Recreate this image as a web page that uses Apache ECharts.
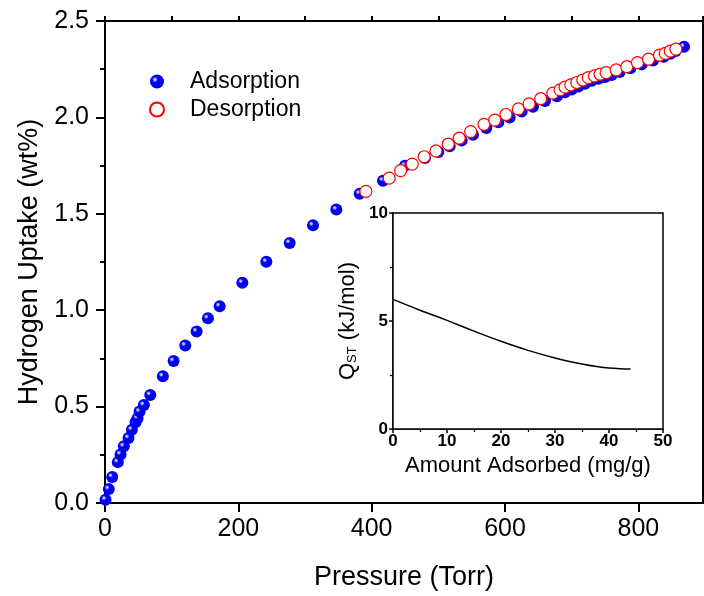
<!DOCTYPE html>
<html>
<head>
<meta charset="utf-8">
<script src="https://cdn.jsdelivr.net/npm/echarts@6/dist/echarts.min.js"></script>
<style>
html,body{margin:0;padding:0;background:#fff;}
#chart{width:704px;height:596px;}
</style>
</head>
<body>
<div id="chart"></div>
<script>
// Adsorption isotherm (Pressure in Torr, uptake in wt%)
const adsPressure = [0.8, 5.7, 10.8, 19.2, 23.3, 28.2, 35.3, 40.3, 45.8, 48.8, 51.8, 58.3, 67.9, 86.8, 102.9, 120.4, 137.4, 154.4, 172, 206, 242, 277, 312, 347, 382, 417, 450, 480, 500, 517, 535, 552, 572, 590, 607, 625, 642, 660, 678, 690, 700, 710, 720, 730, 740, 750, 760, 772, 788, 805, 822, 838, 848, 856, 868.6];
const adsUptake = [0.017, 0.072, 0.135, 0.212, 0.252, 0.294, 0.337, 0.380, 0.419, 0.440, 0.474, 0.508, 0.560, 0.657, 0.736, 0.817, 0.890, 0.958, 1.020, 1.142, 1.251, 1.349, 1.440, 1.522, 1.604, 1.672, 1.749, 1.790, 1.820, 1.850, 1.880, 1.910, 1.945, 1.975, 2.000, 2.030, 2.055, 2.085, 2.110, 2.130, 2.145, 2.160, 2.175, 2.190, 2.200, 2.210, 2.220, 2.235, 2.255, 2.275, 2.295, 2.315, 2.330, 2.345, 2.366];
// Desorption branch
const desPressure = [391.3, 426.3, 443.4, 460.8, 478.8, 496.4, 514.9, 531.4, 548.5, 568.5, 584.6, 601.5, 620.0, 636.1, 653.6, 671.7, 682.6, 690.1, 698.7, 707.7, 716.7, 725.1, 734.2, 742.7, 751.7, 766.8, 782.8, 798.7, 815.3, 831.8, 840.4, 847.9, 856.4];
const desUptake = [1.616, 1.685, 1.724, 1.758, 1.796, 1.826, 1.861, 1.892, 1.926, 1.964, 1.986, 2.015, 2.044, 2.070, 2.097, 2.126, 2.143, 2.157, 2.169, 2.181, 2.194, 2.206, 2.215, 2.224, 2.232, 2.246, 2.263, 2.284, 2.302, 2.323, 2.332, 2.344, 2.354];
// Inset: isosteric heat vs amount adsorbed
const qstAmount = [0, 5, 10, 15, 20, 25, 30, 35, 38, 40, 42, 44];
const qstValue = [6.0, 5.5, 5.03, 4.53, 4.06, 3.64, 3.29, 3.01, 2.88, 2.82, 2.79, 2.78];

const xTicks = {min: 0, max: 897, interval: 200};
const yTicks = {min: 0, max: 2.5, interval: 0.5};

const zip = (a, b) => a.map((v, i) => [v, b[i]]);

const sphere = {
  type: 'radial', x: 0.36, y: 0.36, r: 0.66,
  colorStops: [
    {offset: 0, color: '#e0e0e0'},
    {offset: 0.15, color: '#a0a0c8'},
    {offset: 0.3, color: '#0000ff'},
    {offset: 0.85, color: '#0000f4'},
    {offset: 1, color: '#0000c0'}
  ]
};

const FONT = "'Liberation Sans', Arial, sans-serif";

const chart = echarts.init(document.getElementById('chart'), null, {renderer: 'canvas'});
chart.setOption({
  backgroundColor: '#fff',
  animation: false,
  legend: {
    orient: 'vertical', left: 144, top: 65, itemWidth: 14, itemHeight: 14, itemGap: 5,
    textStyle: {fontFamily: FONT, fontSize: 23, color: '#000', padding: [0, 0, 0, 21]},
    data: [
      {name: 'Adsorption', icon: 'circle'},
      {name: 'Desorption', icon: 'circle'}
    ]
  },
  grid: [
    {left: 105, right: 1, top: 21, height: 486, show: true, borderColor: '#000', borderWidth: 2, backgroundColor: 'transparent'},
    {left: 393, top: 213, width: 270, height: 216, show: true, borderColor: '#000', borderWidth: 1.5, backgroundColor: '#fff', z: 5}
  ],
  xAxis: [
    {
      gridIndex: 0, type: 'value', min: xTicks.min, max: xTicks.max, interval: xTicks.interval,
      name: 'Pressure (Torr)', nameLocation: 'middle', nameGap: 61,
      nameTextStyle: {fontFamily: FONT, fontSize: 27, color: '#000'},
      axisLine: {lineStyle: {color: '#000', width: 2}},
      axisTick: {length: 9, lineStyle: {color: '#000', width: 2}},
      axisLabel: {fontFamily: FONT, fontSize: 25, color: '#000', margin: 14, showMaxLabel: false},
      splitLine: {show: false}
    },
    {
      gridIndex: 0, type: 'value', min: xTicks.min, max: xTicks.max, interval: 100,
      axisLine: {show: false},
      axisTick: {length: 5, lineStyle: {color: '#000', width: 2}},
      axisLabel: {show: false},
      splitLine: {show: false}
    },
    {
      gridIndex: 1, type: 'value', min: 0, max: 50, interval: 10,
      name: 'Amount Adsorbed (mg/g)', nameLocation: 'middle', nameGap: 26,
      nameTextStyle: {fontFamily: FONT, fontSize: 22, color: '#000'},
      axisLine: {lineStyle: {color: '#000', width: 1.5}},
      axisTick: {length: 4, lineStyle: {color: '#000', width: 1.5}},
      minorTick: {show: true, splitNumber: 2, length: 3, lineStyle: {color: '#000', width: 1.2}},
      axisLabel: {fontFamily: FONT, fontSize: 17, fontWeight: 'bold', color: '#000', margin: 4},
      splitLine: {show: false}, minorSplitLine: {show: false}
    }
  ],
  yAxis: [
    {
      gridIndex: 0, type: 'value', min: yTicks.min, max: yTicks.max, interval: yTicks.interval,
      name: 'Hydrogen Uptake (wt%)', nameLocation: 'middle', nameGap: 62,
      nameTextStyle: {fontFamily: FONT, fontSize: 27, color: '#000'},
      axisLine: {lineStyle: {color: '#000', width: 2}},
      axisTick: {length: 9, lineStyle: {color: '#000', width: 2}},
      minorTick: {show: true, splitNumber: 2, length: 5, lineStyle: {color: '#000', width: 2}},
      axisLabel: {fontFamily: FONT, fontSize: 25, color: '#000', margin: 16, formatter: v => v.toFixed(1)},
      splitLine: {show: false}, minorSplitLine: {show: false}
    },
    {
      gridIndex: 1, type: 'value', min: 0, max: 10, interval: 5,
      name: '{q|Q}{s|ST} (kJ/mol)', nameLocation: 'middle', nameGap: 34,
      nameTextStyle: {
        fontFamily: FONT, fontSize: 22, color: '#000',
        rich: {
          q: {fontFamily: FONT, fontSize: 22, color: '#000'},
          s: {fontFamily: FONT, fontSize: 13, color: '#000', verticalAlign: 'bottom', padding: [10, 0, 0, 0]}
        }
      },
      axisLine: {lineStyle: {color: '#000', width: 1.5}},
      axisTick: {length: 4, lineStyle: {color: '#000', width: 1.5}},
      minorTick: {show: true, splitNumber: 2, length: 3, lineStyle: {color: '#000', width: 1.2}},
      axisLabel: {fontFamily: FONT, fontSize: 17, fontWeight: 'bold', color: '#000', margin: 5},
      splitLine: {show: false}, minorSplitLine: {show: false}
    }
  ],
  series: [
    {
      name: 'Adsorption', type: 'scatter', xAxisIndex: 0, yAxisIndex: 0,
      data: zip(adsPressure, adsUptake), symbol: 'circle', symbolSize: 12,
      itemStyle: {color: sphere, opacity: 1}, z: 2
    },
    {
      name: 'Desorption', type: 'scatter', xAxisIndex: 0, yAxisIndex: 0,
      data: zip(desPressure, desUptake), symbol: 'circle', symbolSize: 12,
      itemStyle: {color: '#fff', borderColor: '#ff0000', borderWidth: 1.2, opacity: 1}, z: 3
    },
    {
      name: 'Qst', type: 'line', xAxisIndex: 2, yAxisIndex: 1,
      data: zip(qstAmount, qstValue), smooth: 0.4, symbol: 'none',
      lineStyle: {color: '#000', width: 1.5}, z: 6
    }
  ]
});
</script>
</body>
</html>
